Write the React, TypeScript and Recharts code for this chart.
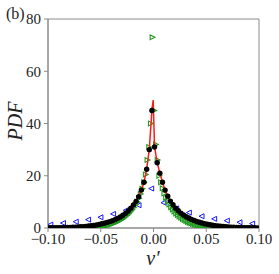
import React from 'react';
import {
  ScatterChart,
  Scatter,
  XAxis,
  YAxis,
  ReferenceArea
} from 'recharts';

// black dots (and the red fit through them)
const blackV = [
  -0.099, -0.0965, -0.094, -0.0915, -0.089, -0.0865, -0.084, -0.0815, -0.079, -0.0765,
  -0.074, -0.0715, -0.069, -0.0665, -0.064, -0.0615, -0.059, -0.0565, -0.054, -0.0515,
  -0.049, -0.0465, -0.044, -0.0415, -0.039, -0.0365, -0.034, -0.0315, -0.029, -0.0265,
  -0.024, -0.0215, -0.019, -0.0165, -0.014, -0.0115, -0.009, -0.0065, -0.004, -0.0015,
  0.001, 0.0035, 0.006, 0.0085, 0.011, 0.0135, 0.016, 0.0185, 0.021, 0.0235,
  0.026, 0.0285, 0.031, 0.0335, 0.036, 0.0385, 0.041, 0.0435, 0.046, 0.0485,
  0.051, 0.0535, 0.056, 0.0585, 0.061, 0.0635, 0.066, 0.0685, 0.071, 0.0735,
  0.076, 0.0785, 0.081, 0.0835, 0.086, 0.0885, 0.091, 0.0935, 0.096, 0.0985
];
const blackPdf = [
  0.06, 0.07, 0.08, 0.1, 0.12, 0.14, 0.17, 0.2, 0.24, 0.28,
  0.33, 0.39, 0.46, 0.54, 0.63, 0.74, 0.86, 1.0, 1.18, 1.38,
  1.6, 1.85, 2.15, 2.45, 2.8, 3.2, 3.7, 4.2, 4.9, 5.6,
  6.5, 7.6, 8.8, 10.2, 12, 14.5, 17.5, 22.5, 30, 45,
  31, 25, 21, 17.5, 14.5, 12.2, 10.3, 8.9, 7.6, 6.6,
  5.7, 5.0, 4.3, 3.8, 3.3, 2.9, 2.5, 2.2, 1.9, 1.65,
  1.42, 1.22, 1.05, 0.9, 0.77, 0.66, 0.56, 0.48, 0.41, 0.35,
  0.3, 0.25, 0.21, 0.18, 0.15, 0.13, 0.11, 0.09, 0.07, 0.06
];
const peakV = -0.0003;
const peakPdf = 49;

// green right-pointing triangles
const greenV = [
  -0.0585, -0.0569, -0.0553, -0.0537, -0.0521, -0.0505, -0.0489, -0.0473, -0.0457, -0.0441,
  -0.0425, -0.0409, -0.0393, -0.0377, -0.0361, -0.0345, -0.0329, -0.0313, -0.0297, -0.0281,
  -0.0265, -0.0249, -0.0233, -0.0217, -0.0201, -0.0185, -0.0169, -0.0153, -0.0137, -0.0121,
  -0.0105, -0.0089, -0.0073, -0.0057, -0.0041, -0.0025, -0.0009, 0.0007, 0.0023, 0.0039,
  0.0055, 0.0071, 0.0087, 0.0103, 0.0119, 0.0135, 0.0151, 0.0167, 0.0183, 0.0199,
  0.0215, 0.0231, 0.0247, 0.0263, 0.0279, 0.0295, 0.0311, 0.0327, 0.0343, 0.0359,
  0.0375, 0.0391, 0.0407, 0.0423, 0.0439, 0.0455, 0.0471, 0.0487, 0.0503, 0.0519,
  0.0535, 0.0551, 0.0567, 0.0583
];
const greenPdf = [
  0.14, 0.18, 0.24, 0.3, 0.38, 0.46, 0.56, 0.68, 0.8, 0.95,
  1.1, 1.3, 1.5, 1.75, 2.0, 2.3, 2.6, 2.95, 3.35, 3.8,
  4.3, 4.9, 5.5, 6.2, 7.0, 7.9, 8.9, 10, 11.4, 13,
  15, 17.5, 20.5, 26, 31, 40, 73, 45, 32, 26,
  20, 17.5, 15.2, 13.2, 11.6, 10.2, 9.0, 8.0, 7.1, 6.3,
  5.6, 5.0, 4.4, 3.9, 3.45, 3.05, 2.7, 2.35, 2.05, 1.8,
  1.55, 1.35, 1.15, 1.0, 0.85, 0.72, 0.6, 0.5, 0.41, 0.33,
  0.26, 0.2, 0.15, 0.11
];

// blue left-pointing triangles
const blueV = [
  -0.0978, -0.0858, -0.0737, -0.062, -0.0503, -0.0383, -0.0262, -0.0142, -0.0022,
  0.0095, 0.0215, 0.0335, 0.0455, 0.0575, 0.0695, 0.0815, 0.0935
];
const bluePdf = [
  1.3, 1.9, 2.4, 3.2, 4.1, 5.4, 6.8, 8.7, 15.1,
  9.7, 7.5, 5.9, 4.5, 3.5, 2.8, 2.2, 1.7
];

const xTicks = [-0.1, -0.05, 0, 0.05, 0.1];
const yTicks = [0, 20, 40, 60, 80];

const zip = (xs: number[], ys: number[]) => xs.map((v, i) => ({ v, pdf: ys[i] }));

const blackData = zip(blackV, blackPdf);
const redData = [...blackData, { v: peakV, pdf: peakPdf }].sort((a, b) => a.v - b.v);
const greenData = zip(greenV, greenPdf);
const blueData = zip(blueV, bluePdf);

const serif = '"Liberation Serif", "DejaVu Serif", serif';
const axisGray = '#8a8a8a';

const RightTri = (props: any) => {
  const { cx, cy } = props;
  const s = 2.4;
  return (
    <polygon
      points={`${cx + s},${cy} ${cx - s},${cy - s} ${cx - s},${cy + s}`}
      fill="none"
      stroke="#1f9a1f"
      strokeWidth={1.1}
    />
  );
};

const LeftTri = (props: any) => {
  const { cx, cy } = props;
  const s = 2.5;
  return (
    <polygon
      points={`${cx - s},${cy} ${cx + s},${cy - s} ${cx + s},${cy + s}`}
      fill="none"
      stroke="#1a1aff"
      strokeWidth={1}
    />
  );
};

const Dot = (props: any) => <circle cx={props.cx} cy={props.cy} r={2.7} fill="#000" />;
const NoDot = () => <g />;

const fmtX = (v: number) => v.toFixed(2).replace('-', '\u2212');

export default function App() {
  return (
    <div style={{ position: 'absolute', left: 0, top: 0, width: 279, height: 274, background: '#fff' }}>
      <ScatterChart width={279} height={274} margin={{ top: 19, right: 20, left: 0, bottom: 0 }}>
        <XAxis
          type="number"
          dataKey="v"
          domain={[-0.1, 0.1]}
          ticks={xTicks}
          tickFormatter={fmtX}
          allowDataOverflow
          height={46}
          stroke={axisGray}
          tickSize={4}
          tickMargin={1}
          tick={{ fill: '#222', fontSize: 15, fontFamily: serif }}
        />
        <YAxis
          type="number"
          dataKey="pdf"
          domain={[0, 80]}
          ticks={yTicks}
          allowDataOverflow
          width={48}
          stroke={axisGray}
          tickSize={4}
          tickMargin={3}
          tick={{ fill: '#222', fontSize: 15, fontFamily: serif }}
        />
        <ReferenceArea x1={-0.1} x2={0.1} y1={0} y2={80} fill="none" stroke={axisGray} strokeWidth={1} />
        <Scatter data={blueData} shape={LeftTri} isAnimationActive={false} />
        <Scatter data={greenData} shape={RightTri} isAnimationActive={false} />
        <Scatter
          data={redData}
          shape={NoDot}
          line={{ stroke: '#ff1a1a', strokeWidth: 1.5 }}
          isAnimationActive={false}
        />
        <Scatter data={blackData} shape={Dot} isAnimationActive={false} />
      </ScatterChart>
      <div style={{ position: 'absolute', left: 6, top: 5, fontFamily: serif, fontSize: 16, color: '#222' }}>(b)</div>
      <div
        style={{
          position: 'absolute',
          left: 15,
          top: 121,
          transform: 'translate(-50%, -50%) rotate(-90deg)',
          fontFamily: serif,
          fontStyle: 'italic',
          fontSize: 20,
          color: '#222',
          whiteSpace: 'nowrap'
        }}
      >
        PDF
      </div>
      <div
        style={{
          position: 'absolute',
          left: 153,
          top: 258,
          transform: 'translate(-50%, -50%)',
          fontFamily: serif,
          fontStyle: 'italic',
          fontSize: 20,
          color: '#222',
          whiteSpace: 'nowrap'
        }}
      >
        v′
      </div>
    </div>
  );
}
